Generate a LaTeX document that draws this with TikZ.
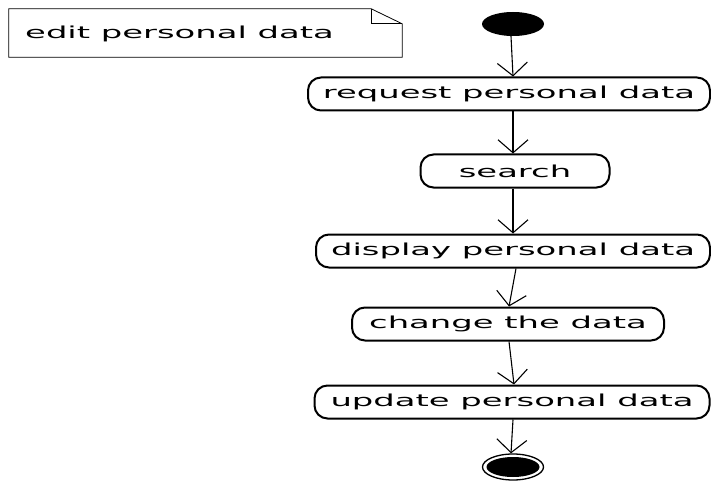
\documentclass[tikz,border=0pt]{standalone}
\usepackage{fontspec}
\usetikzlibrary{shapes.geometric,arrows.meta}

\newfontfamily\umlfont[FakeStretch=2.05]{DejaVu Sans}

\tikzstyle{action} = [rectangle, rounded corners=13pt, minimum height=33pt, inner sep=0pt, text centered, draw=black, line width=2pt, font=\umlfont\fontsize{16.5}{18}\selectfont]
\tikzstyle{initial} = [ellipse, minimum width=62pt, minimum height=24pt, inner sep=0pt, fill=black]
\tikzstyle{final} = [ellipse, minimum width=61pt, minimum height=26pt, inner sep=0pt, draw=black, line width=1.3pt]
\tikzstyle{arrow} = [line width=1.1pt, -{Straight Barb[length=13pt, width=30pt]}]

\begin{document}
\begin{tikzpicture}[x=1pt, y=1pt]
\useasboundingbox (0,0) rectangle (711,-481);

% comment note
\node (note) [rectangle, minimum width=393pt, minimum height=48pt, inner sep=0pt] at (205.5,-33) {};
\node (notetext) [anchor=west, inner sep=0pt, font=\umlfont\fontsize{16.5}{18}\selectfont] at (25,-34) {edit personal data};
\draw [line width=0.8pt] (note.north west) -- ([xshift=-31pt]note.north east) -- ([yshift=-15pt]note.north east) -- (note.south east) -- (note.south west) -- cycle;
\draw [line width=0.8pt] ([xshift=-31pt]note.north east) |- ([yshift=-15pt]note.north east);

% activity flow
\node (start) [initial] at (513,-24) {};
\node (request) [action, minimum width=402pt, below of=start, node distance=70pt, xshift=-4pt] {request personal data};
\node (search) [action, minimum width=189pt, below of=request, node distance=77pt, xshift=6pt] {search};
\node (display) [action, minimum width=394pt, below of=search, node distance=80pt, xshift=-2pt] {display personal data};
\node (change) [action, minimum width=312pt, below of=display, node distance=73pt, xshift=-5pt] {change the data};
\node (update) [action, minimum width=395pt, below of=change, node distance=78pt, xshift=4pt] {update personal data};
\node (end) [final, below of=update, node distance=65pt, xshift=1pt] {};
\fill [black] (end.center) ellipse [x radius=26.5pt, y radius=10pt];

\draw [arrow] ([xshift=-2pt]start.south) -- ([xshift=4pt]request.north);
\draw [arrow] ([xshift=4pt]request.south) -- ([xshift=-2pt]search.north);
\draw [arrow] ([xshift=-2pt]search.south) -- (display.north);
\draw [arrow] ([xshift=3pt]display.south) -- ([xshift=1pt]change.north);
\draw [arrow] ([xshift=1pt]change.south) -- ([xshift=2pt]update.north);
\draw [arrow] ([xshift=1pt]update.south) -- ([xshift=-2pt]end.north);

\end{tikzpicture}
\end{document}
